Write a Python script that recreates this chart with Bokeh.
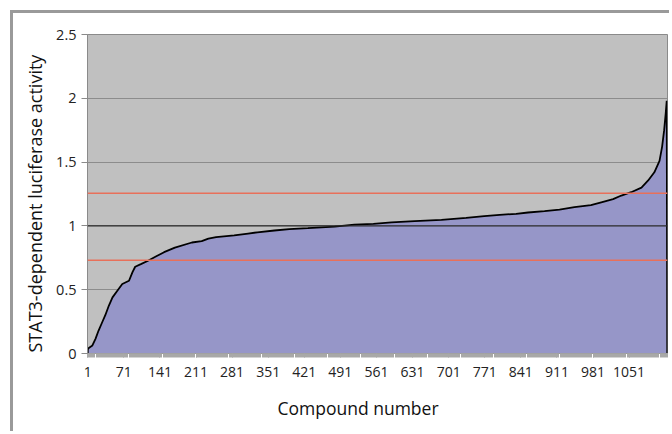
from bokeh.plotting import figure
from bokeh.models import FixedTicker, Span, Range1d, Title
from bokeh.embed import file_html
from bokeh.resources import INLINE

# ---- data (sorted compound activities) ----
compound = [1, 3, 10, 16, 22, 29, 35, 42, 49, 58, 68, 81, 88, 93, 104, 117, 133, 149, 170, 203,
            222, 235, 250, 285, 312, 330, 363, 392, 428, 480, 518, 555, 590, 635, 687, 735, 770,
            800, 832, 855, 887, 916, 945, 977, 997, 1020, 1036, 1055, 1075, 1088, 1100, 1110,
            1115, 1119, 1122, 1124, 1125]
activity = [0.03, 0.044, 0.063, 0.115, 0.18, 0.245, 0.30, 0.376, 0.44, 0.49, 0.545, 0.57, 0.64,
            0.68, 0.70, 0.725, 0.76, 0.794, 0.83, 0.87, 0.88, 0.90, 0.912, 0.925, 0.94, 0.95,
            0.964, 0.974, 0.982, 0.995, 1.01, 1.016, 1.027, 1.037, 1.048, 1.063, 1.076, 1.087,
            1.095, 1.105, 1.115, 1.128, 1.147, 1.162, 1.185, 1.21, 1.238, 1.264, 1.30, 1.356,
            1.42, 1.51, 1.62, 1.75, 1.88, 1.98]
x_tick_labels = [1, 71, 141, 211, 281, 351, 421, 491, 561, 631, 701, 771, 841, 911, 981, 1051]
y_ticks = [0, 0.5, 1, 1.5, 2, 2.5]
mean_level = 1.0
threshold_levels = [0.73, 1.255]
n_compounds = 1125

FONT = "Open Sans"

p = figure(width=659, height=421, output_backend="svg", toolbar_location=None,
           x_range=Range1d(0.5, n_compounds + 0.5), y_range=Range1d(0, 2.5),
           min_border_left=74, min_border_right=5, min_border_top=21, min_border_bottom=81)
p.margin = (10, 0, 0, 10)
p.styles = {"border-left": "3px solid #9a9a9a", "border-top": "3px solid #9a9a9a"}

p.background_fill_color = "#c0c0c0"
p.border_fill_color = "white"
p.outline_line_color = "#8a8a8a"
p.outline_line_width = 1

# grid
p.xgrid.visible = False
p.ygrid.ticker = FixedTicker(ticks=y_ticks)
p.ygrid.grid_line_color = "#8c8c8c"
p.ygrid.grid_line_width = 1

# area + outline
xs = [compound[0]] + compound + [compound[-1]]
ys = [0] + activity + [0]
p.varea(x=compound, y1=[0] * len(compound), y2=activity, fill_color="#9696c8", fill_alpha=1)
p.line(x=xs, y=ys, line_color="black", line_width=1.8)

# reference lines
p.add_layout(Span(location=mean_level, dimension="width", line_color="#2a2a2a", line_width=1.2))
for t in threshold_levels:
    p.add_layout(Span(location=t, dimension="width", line_color="#e8705a", line_width=1.5))

# axes
p.xaxis.ticker = FixedTicker(ticks=x_tick_labels, minor_ticks=list(range(1, n_compounds + 1, 2)))
p.xaxis.major_label_text_font = FONT
p.xaxis.major_label_text_font_size = "14px"
p.xaxis.major_label_text_color = "#222222"
p.xaxis.major_label_standoff = 9
p.xaxis.axis_line_color = "#9a9a9a"
p.xaxis.major_tick_line_color = "#a0a0a0"
p.xaxis.minor_tick_line_color = "#a8a8a8"
p.xaxis.major_tick_out = 4
p.xaxis.major_tick_in = 0
p.xaxis.minor_tick_out = 4
p.xaxis.minor_tick_in = 0

p.yaxis.ticker = FixedTicker(ticks=y_ticks)
p.yaxis.formatter.use_scientific = False
p.yaxis.major_label_text_font = FONT
p.yaxis.major_label_text_font_size = "14.5px"
p.yaxis.major_label_text_color = "#222222"
p.yaxis.major_label_standoff = 5
p.yaxis.axis_line_color = "#8a8a8a"
p.yaxis.major_tick_line_color = "#8a8a8a"
p.yaxis.major_tick_out = 6
p.yaxis.major_tick_in = 0
p.yaxis.minor_tick_line_color = None

# axis titles
p.add_layout(Title(text="Compound number", align="left", offset=190, standoff=29,
                   text_font=FONT, text_font_size="17.5px", text_font_style="normal",
                   text_color="#111111"), "below")
p.add_layout(Title(text="STAT3-dependent luciferase activity", align="left", offset=1, standoff=14,
                   text_font=FONT, text_font_size="18px", text_font_style="normal",
                   text_color="#111111"), "left")

open("out.html", "w").write(file_html(p, INLINE))
